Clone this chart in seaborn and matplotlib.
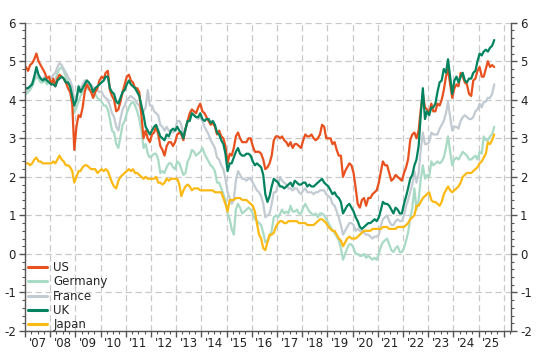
import pandas as pd
import matplotlib.pyplot as plt
import matplotlib.dates as mdates
from matplotlib.ticker import MultipleLocator
import seaborn as sb

# 30y government bond yields, monthly readings (%), Jan 2007 - Aug 2025
us = [4.85, 4.75, 4.9, 4.95, 5.05, 5.2, 5.0, 4.9, 4.8, 4.7, 4.55, 4.6,
      4.4, 4.55, 4.35, 4.55, 4.65, 4.6, 4.55, 4.45, 4.3, 4.2, 3.9, 2.7,
      3.3, 3.6, 3.55, 3.8, 4.2, 4.4, 4.3, 4.2, 4.05, 4.2, 4.3, 4.5,
      4.6, 4.55, 4.7, 4.75, 4.25, 4.1, 4.0, 3.7, 3.75, 3.95, 4.2, 4.4,
      4.6, 4.65, 4.5, 4.45, 4.3, 4.3, 4.2, 3.6, 3.0, 3.2, 3.0, 2.9,
      3.1, 3.15, 3.3, 3.1, 2.8, 2.7, 2.55, 2.8, 2.9, 2.9, 2.8, 2.9,
      3.1, 3.15, 3.1, 2.95, 3.25, 3.45, 3.65, 3.75, 3.7, 3.65, 3.8, 3.9,
      3.7, 3.65, 3.55, 3.45, 3.35, 3.4, 3.3, 3.1, 3.2, 3.05, 3.0, 2.8,
      2.35, 2.6, 2.55, 2.75, 3.05, 3.15, 3.0, 2.9, 2.9, 2.9, 3.0, 3.0,
      2.8, 2.65, 2.65, 2.65, 2.6, 2.45, 2.2, 2.25, 2.35, 2.55, 2.95, 3.05,
      3.05, 3.0, 3.05, 2.95, 2.9, 2.8, 2.9, 2.75, 2.85, 2.85, 2.8, 2.75,
      2.95, 3.1, 3.05, 3.05, 3.1, 3.0, 2.95, 3.0, 3.1, 3.35, 3.3, 3.0,
      3.0, 3.0, 2.85, 2.9, 2.7, 2.55, 2.55, 2.0, 2.15, 2.25, 2.35, 2.3,
      2.1, 1.7, 1.3, 1.2, 1.4, 1.45, 1.25, 1.45, 1.45, 1.55, 1.6, 1.65,
      1.85, 2.15, 2.4, 2.3, 2.3, 2.1, 1.9, 1.95, 2.05, 2.0, 1.95, 1.9,
      2.1, 2.25, 2.45, 2.95, 3.1, 3.15, 3.0, 3.2, 3.75, 4.15, 3.8, 3.75,
      3.65, 3.9, 3.7, 3.7, 3.9, 3.85, 4.0, 4.25, 4.6, 4.8, 4.4, 4.05,
      4.3, 4.4, 4.35, 4.7, 4.6, 4.45, 4.4, 4.15, 4.1, 4.5, 4.55, 4.75,
      4.85, 4.6, 4.6, 4.8, 5.0, 4.85, 4.9, 4.85]

germany = [4.15, 4.2, 4.25, 4.35, 4.5, 4.6, 4.55, 4.45, 4.45, 4.5, 4.4, 4.5,
           4.4, 4.5, 4.5, 4.7, 4.8, 4.85, 4.75, 4.6, 4.45, 4.35, 4.05, 3.65,
           3.8, 3.95, 4.1, 4.2, 4.35, 4.35, 4.25, 4.25, 4.15, 4.15, 4.05, 4.0,
           3.95, 3.85, 3.85, 3.75, 3.5, 3.2, 3.15, 2.85, 2.75, 3.05, 3.35, 3.45,
           3.65, 3.8, 3.9, 3.95, 3.85, 3.7, 3.5, 3.2, 2.75, 2.85, 2.6, 2.5,
           2.55, 2.6, 2.6, 2.45, 2.1, 2.15, 2.1, 2.25, 2.35, 2.35, 2.25, 2.2,
           2.4, 2.35, 2.2, 2.05, 2.1, 2.4, 2.5, 2.7, 2.65, 2.55, 2.6, 2.65,
           2.75, 2.6, 2.5, 2.4, 2.3, 2.25, 2.15, 1.85, 1.85, 1.7, 1.55, 1.4,
           1.05, 0.9, 0.65, 0.5, 1.15, 1.3, 1.2, 1.05, 1.1, 1.15, 1.2, 1.15,
           1.05, 0.9, 0.85, 0.8, 0.75, 0.55, 0.3, 0.35, 0.45, 0.6, 0.95, 1.0,
           0.95, 1.05, 1.15, 1.05, 1.1, 1.05, 1.25, 1.1, 1.1, 1.15, 1.05, 1.05,
           1.2, 1.3, 1.2, 1.1, 1.05, 1.0, 1.05, 0.95, 1.05, 1.05, 1.0, 0.9,
           0.8, 0.7, 0.6, 0.55, 0.45, 0.35, 0.15, -0.15, 0.0, 0.15, 0.25, 0.25,
           0.15, 0.0, 0.0, -0.05, -0.05, 0.0, -0.1, -0.05, -0.1, -0.15, -0.1, -0.15,
           0.0, 0.2, 0.3, 0.35, 0.4, 0.25, 0.1, 0.05, 0.15, 0.2, 0.05, 0.05,
           0.15, 0.35, 0.55, 0.9, 1.2, 1.7, 1.15, 1.4, 1.95, 2.3, 1.95, 2.05,
           2.0, 2.4, 2.3, 2.35, 2.4, 2.35, 2.4, 2.5, 2.75, 3.05, 2.65, 2.3,
           2.45, 2.5, 2.45, 2.55, 2.65, 2.6, 2.55, 2.45, 2.45, 2.5, 2.55, 2.45,
           2.65, 2.6, 3.05, 2.95, 2.95, 3.05, 3.1, 3.3]

france = [4.2, 4.3, 4.35, 4.45, 4.6, 4.7, 4.65, 4.55, 4.55, 4.6, 4.55, 4.6,
          4.55, 4.65, 4.7, 4.85, 4.95, 4.9, 4.8, 4.7, 4.6, 4.5, 4.35, 4.0,
          4.1, 4.2, 4.3, 4.4, 4.5, 4.5, 4.4, 4.4, 4.3, 4.3, 4.25, 4.2,
          4.2, 4.1, 4.05, 4.0, 3.85, 3.65, 3.55, 3.3, 3.2, 3.5, 3.75, 3.85,
          4.0, 4.05, 4.1, 4.05, 4.0, 3.9, 3.85, 3.65, 3.7, 3.8, 4.25, 3.85,
          3.85, 3.7, 3.65, 3.6, 3.35, 3.3, 3.2, 3.3, 3.2, 3.2, 3.15, 3.2,
          3.45, 3.45, 3.35, 3.1, 3.2, 3.45, 3.55, 3.65, 3.6, 3.55, 3.5, 3.55,
          3.45, 3.3, 3.2, 3.1, 2.95, 2.85, 2.75, 2.5, 2.45, 2.3, 2.2, 1.95,
          1.6, 1.45, 1.3, 1.4, 1.9, 2.15, 2.05, 1.95, 1.95, 1.9, 1.95, 1.95,
          1.85, 1.75, 1.65, 1.6, 1.5, 1.3, 0.95, 1.0, 1.05, 1.3, 1.6, 1.6,
          1.8, 2.0, 1.9, 1.85, 1.8, 1.7, 1.7, 1.65, 1.7, 1.7, 1.6, 1.55,
          1.65, 1.7, 1.6, 1.6, 1.6, 1.55, 1.6, 1.6, 1.65, 1.65, 1.65, 1.55,
          1.5, 1.45, 1.3, 1.25, 1.1, 0.95, 0.75, 0.5, 0.6, 0.7, 0.8, 0.8,
          0.75, 0.6, 0.65, 0.6, 0.6, 0.55, 0.5, 0.5, 0.45, 0.4, 0.45, 0.45,
          0.5, 0.75, 0.9, 0.95, 1.0, 0.85, 0.75, 0.75, 0.85, 0.9, 0.85, 0.85,
          1.0, 1.25, 1.4, 1.6, 1.8, 2.15, 1.85, 2.1, 2.7, 3.15, 2.85, 2.85,
          2.9, 3.15, 3.1, 3.1, 3.1, 3.25, 3.35, 3.45, 3.65, 3.95, 3.55, 3.2,
          3.3, 3.3, 3.25, 3.45, 3.55, 3.6, 3.55, 3.5, 3.5, 3.55, 3.7, 3.75,
          3.9, 3.8, 3.95, 3.95, 4.05, 4.05, 4.15, 4.4]

uk = [4.3, 4.3, 4.35, 4.4, 4.6, 4.85, 4.65, 4.55, 4.5, 4.55, 4.5, 4.45,
      4.4, 4.4, 4.35, 4.5, 4.55, 4.6, 4.55, 4.45, 4.45, 4.35, 4.1, 3.85,
      4.0, 4.35, 4.2, 4.3, 4.4, 4.5, 4.45, 4.35, 4.2, 4.3, 4.35, 4.4,
      4.45, 4.5, 4.6, 4.6, 4.3, 4.2, 4.15, 3.95, 3.9, 4.05, 4.2, 4.25,
      4.4, 4.5, 4.4, 4.35, 4.3, 4.2, 4.1, 3.85, 3.6, 3.3, 3.2, 3.1,
      3.2, 3.3, 3.35, 3.2, 3.05, 3.0, 2.95, 3.1, 3.05, 3.2, 3.25, 3.2,
      3.3, 3.2, 3.15, 3.0, 3.25, 3.45, 3.45, 3.65, 3.6, 3.55, 3.55, 3.65,
      3.5, 3.45, 3.5, 3.5, 3.4, 3.45, 3.35, 3.15, 3.1, 2.95, 2.85, 2.6,
      2.15, 2.35, 2.35, 2.5, 2.65, 2.75, 2.6, 2.55, 2.55, 2.6, 2.6, 2.55,
      2.4, 2.3, 2.35, 2.3, 2.25, 2.05, 1.55, 1.35, 1.5, 1.75, 1.95, 1.9,
      1.85, 1.75, 1.75, 1.7, 1.75, 1.8, 1.85, 1.75, 1.9, 1.85, 1.8, 1.8,
      1.85, 1.85, 1.75, 1.8, 1.75, 1.75, 1.8, 1.85, 1.9, 1.95, 1.85, 1.8,
      1.75, 1.65, 1.55, 1.6, 1.5, 1.45, 1.35, 1.05, 1.15, 1.25, 1.3, 1.2,
      1.1, 0.95, 0.85, 0.7, 0.65, 0.7, 0.75, 0.8, 0.8, 0.85, 0.9, 0.85,
      0.95, 1.15, 1.35, 1.3, 1.3, 1.25, 1.15, 1.05, 1.2, 1.15, 1.05, 1.05,
      1.3, 1.5, 1.7, 1.95, 2.05, 2.3, 2.45, 2.8, 3.6, 4.3, 3.5, 3.7,
      3.6, 3.8, 3.8, 3.9, 4.2, 4.45, 4.5, 4.8, 4.7, 5.05, 4.6, 4.15,
      4.5, 4.6, 4.45, 4.6, 4.7, 4.5, 4.45, 4.55, 4.55, 4.7, 4.75, 5.0,
      5.2, 5.15, 5.25, 5.3, 5.25, 5.35, 5.4, 5.55]

japan = [2.35, 2.35, 2.3, 2.35, 2.45, 2.5, 2.4, 2.4, 2.35, 2.35, 2.35, 2.35,
         2.35, 2.4, 2.35, 2.45, 2.55, 2.45, 2.4, 2.3, 2.3, 2.25, 2.15, 1.85,
         2.0, 2.15, 2.15, 2.25, 2.3, 2.3, 2.25, 2.2, 2.2, 2.2, 2.1, 2.15,
         2.2, 2.15, 2.2, 2.15, 2.0, 1.85, 1.75, 1.7, 1.9, 2.0, 2.05, 2.1,
         2.15, 2.2, 2.15, 2.2, 2.1, 2.1, 2.05, 2.0, 1.95, 2.0, 1.95, 1.95,
         1.95, 1.95, 2.0, 1.85, 1.85, 1.8, 1.85, 1.95, 1.9, 1.95, 1.95, 1.95,
         1.95, 1.8, 1.5, 1.65, 1.75, 1.8, 1.75, 1.65, 1.7, 1.7, 1.7, 1.65,
         1.65, 1.65, 1.65, 1.65, 1.65, 1.65, 1.6, 1.6, 1.6, 1.6, 1.45, 1.3,
         1.1, 1.4, 1.4, 1.4, 1.45, 1.45, 1.45, 1.4, 1.4, 1.4, 1.35, 1.3,
         1.25, 1.1, 0.8, 0.5, 0.4, 0.15, 0.1, 0.3, 0.5, 0.5, 0.55, 0.7,
         0.8, 0.85, 0.85, 0.8, 0.8, 0.85, 0.85, 0.85, 0.85, 0.85, 0.8, 0.8,
         0.8, 0.8, 0.75, 0.75, 0.75, 0.75, 0.8, 0.85, 0.9, 0.9, 0.85, 0.8,
         0.7, 0.65, 0.6, 0.6, 0.5, 0.4, 0.35, 0.2, 0.3, 0.4, 0.45, 0.4,
         0.4, 0.4, 0.45, 0.5, 0.55, 0.6, 0.6, 0.6, 0.6, 0.65, 0.65, 0.65,
         0.65, 0.65, 0.7, 0.7, 0.7, 0.65, 0.65, 0.65, 0.65, 0.7, 0.7, 0.7,
         0.7, 0.75, 0.8, 0.9, 0.95, 1.0, 1.25, 1.25, 1.35, 1.45, 1.5, 1.55,
         1.6, 1.4, 1.35, 1.35, 1.3, 1.25, 1.35, 1.55, 1.65, 1.75, 1.65, 1.6,
         1.65, 1.7, 1.75, 1.85, 2.0, 2.05, 2.1, 2.1, 2.1, 2.15, 2.2, 2.25,
         2.35, 2.4, 2.5, 2.6, 2.9, 2.85, 2.95, 3.1]

countries = ["US", "Germany", "France", "UK", "Japan"]
colors = {"US": "#E8511E", "Germany": "#A9DAC5", "France": "#C3CBD2",
          "UK": "#00835E", "Japan": "#FDB913"}
year_labels = ["'07", "'08", "'09", "'10", "'11", "'12", "'13", "'14", "'15",
               "'16", "'17", "'18", "'19", "'20", "'21", "'22", "'23", "'24", "'25"]

dates = pd.date_range("2007-01-01", "2025-08-01", freq="MS") + pd.Timedelta(days=14)
df = pd.DataFrame({"date": dates, "US": us, "Germany": germany, "France": france,
                   "UK": uk, "Japan": japan})
df_long = df.melt(id_vars="date", var_name="country", value_name="yield")

sb.set_style("white")
plt.rcParams["font.family"] = ["DejaVu Sans"]
plt.rcParams["axes.unicode_minus"] = False

fig = plt.figure(figsize=(5.37, 3.58), dpi=100)
ax = fig.add_axes([0.0466, 0.0754, 0.905, 0.8612])

# draw order (legend order is set later)
for c in ["Germany", "France", "Japan", "US", "UK"]:
    sb.lineplot(data=df_long[df_long["country"] == c], x="date", y="yield",
                color=colors[c], lw=1.6, label=c, ax=ax)

ax.set_xlim(pd.Timestamp("2007-01-01"), pd.Timestamp("2026-04-15"))
ax.set_ylim(-2, 6)
ax.set_xlabel("")
ax.set_ylabel("")

ax.yaxis.set_major_locator(MultipleLocator(1))
ax.yaxis.set_minor_locator(MultipleLocator(0.2))
ax.xaxis.set_major_locator(mdates.YearLocator())
ax.xaxis.set_minor_locator(mdates.MonthLocator(bymonth=[4, 7, 10]))
ax.xaxis.set_major_formatter(plt.NullFormatter())

ax.grid(True, which="major", color="#C8C8C8", ls=(0, (5, 3)), lw=0.9)
ax.set_axisbelow(True)

for s in ["left", "right", "bottom"]:
    ax.spines[s].set_color("#555555")
    ax.spines[s].set_linewidth(1.0)
ax.spines["top"].set_visible(False)

ax.tick_params(axis="y", which="both", left=True, right=True, labelleft=True,
               labelright=True, direction="out", colors="#555555",
               labelcolor="#222222", labelsize=8.5)
ax.tick_params(axis="y", which="major", length=4, width=1, pad=2.5)
ax.tick_params(axis="y", which="minor", length=2, width=0.8)
ax.tick_params(axis="x", which="major", length=4, width=1, colors="#555555", bottom=True)
ax.tick_params(axis="x", which="minor", length=2, width=0.8, colors="#555555", bottom=True)

# year labels centred in each year
for i, lab in enumerate(year_labels):
    ax.text(pd.Timestamp(f"{2007 + i}-07-01"), -0.02, lab, transform=ax.get_xaxis_transform(),
            ha="center", va="top", fontsize=8.5, color="#222222")

handles, labels = ax.get_legend_handles_labels()
order = [labels.index(c) for c in countries]
ax.legend([handles[i] for i in order], countries, loc="lower left", frameon=False,
          fontsize=8.5, handlelength=1.6, handletextpad=0.55, labelspacing=0.1,
          borderpad=0.0, borderaxespad=0.0, bbox_to_anchor=(0.006, 0.0))
for line in ax.get_legend().get_lines():
    line.set_linewidth(2.2)

fig.savefig("out.png", dpi=100)
